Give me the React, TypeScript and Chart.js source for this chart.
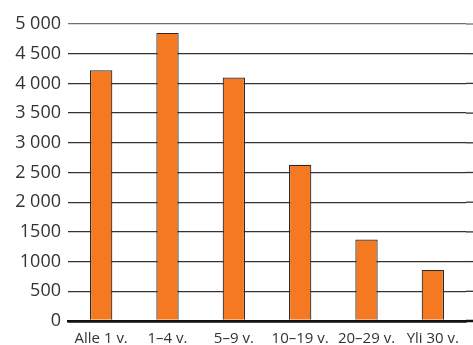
import React, { useEffect, useRef } from "react";
import { Chart, registerables } from "chart.js";

Chart.register(...registerables);

const categories = ["Alle 1 v.", "1–4 v.", "5–9 v.", "10–19 v.", "20–29 v.", "Yli 30 v."];
const values = [4220, 4850, 4100, 2630, 1370, 860];
const yTickValues = [0, 500, 1000, 1500, 2000, 2500, 3000, 3500, 4000, 4500, 5000];
const yTickLabels = ["0", "500", "1000", "1500", "2 000", "2 500", "3 000", "3 500", "4 000", "4 500", "5 000"];

const FONT = "'Open Sans', 'Noto Sans', sans-serif";

const gridColorFor = (v: number) => (v === 5000 ? "#707070" : v === 0 ? "#111111" : "#333333");

const extendGrid = {
  id: "extendGrid",
  afterDraw(chart: any) {
    const { ctx, chartArea } = chart;
    const y = chart.scales.y;
    ctx.save();
    yTickValues.forEach((v) => {
      const py = y.getPixelForValue(v);
      ctx.beginPath();
      ctx.strokeStyle = gridColorFor(v);
      ctx.lineWidth = v === 0 ? 2.5 : 1.3;
      ctx.moveTo(chartArea.right, py);
      ctx.lineTo(chart.width, py);
      ctx.stroke();
    });
    ctx.restore();
  },
};

export default function App() {
  const ref = useRef<HTMLCanvasElement>(null);
  useEffect(() => {
    if (!ref.current) return;
    const chart = new Chart(ref.current, {
      type: "bar",
      data: {
        labels: categories,
        datasets: [
          {
            data: values,
            backgroundColor: "#F47920",
            borderColor: "#2a2a2a",
            borderWidth: 1.2,
            barPercentage: 0.337,
            categoryPercentage: 1,
          },
        ],
      },
      plugins: [extendGrid],
      options: {
        responsive: false,
        animation: false,
        layout: { padding: { top: 24, right: 7, left: 0, bottom: 0 } },
        plugins: { legend: { display: false }, tooltip: { enabled: false } },
        scales: {
          x: {
            grid: { display: false, drawTicks: false },
            border: { display: true, color: "#111111", width: 2.5 },
            ticks: {
              color: "#333333",
              font: { family: FONT, size: 15 },
              padding: 9,
              maxRotation: 0,
              autoSkip: false,
            },
            afterFit: (s: any) => {
              s.height = 24;
            },
          },
          y: {
            min: 0,
            max: 5000,
            afterBuildTicks: (s: any) => {
              s.ticks = yTickValues.map((v) => ({ value: v }));
            },
            grid: {
              drawTicks: false,
              color: (c: any) => gridColorFor(c.tick?.value),
              lineWidth: (c: any) => (c.tick?.value === 0 ? 2.5 : 1.3),
            },
            border: { display: false },
            ticks: {
              color: "#333333",
              font: { family: FONT, size: 18 },
              padding: 7,
              callback: (v: any) => {
                const i = yTickValues.indexOf(Number(v));
                return i >= 0 ? yTickLabels[i] : "";
              },
            },
            afterFit: (s: any) => {
              s.width = 68;
            },
          },
        },
      },
    });
    return () => chart.destroy();
  }, []);
  return (
    <div style={{ position: "fixed", left: 0, top: 0, width: 473, height: 345, background: "#fff" }}>
      <canvas ref={ref} width={473} height={345} style={{ display: "block" }} />
    </div>
  );
}
